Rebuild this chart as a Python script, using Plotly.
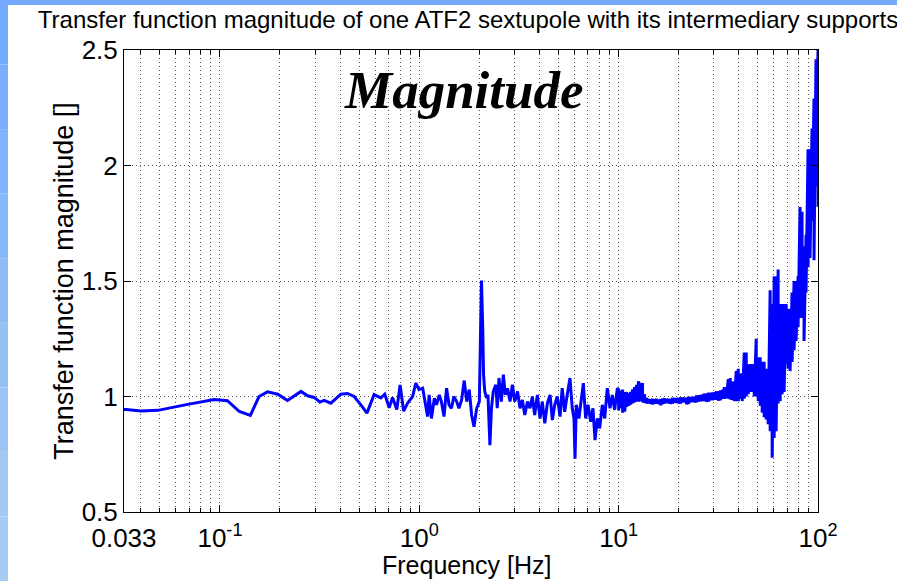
import plotly.graph_objects as go

# ---- data ----
# 0.033 .. 1 Hz
freq_low = [0.033, 0.0338, 0.0402, 0.0488, 0.0689, 0.0936, 0.109, 0.125, 0.142, 0.157,
            0.173, 0.195, 0.218, 0.255, 0.275, 0.297, 0.317, 0.333, 0.360, 0.404,
            0.436, 0.471, 0.509, 0.546, 0.593, 0.641, 0.671, 0.706, 0.734, 0.771,
            0.801, 0.834, 0.873, 0.925, 0.960, 0.997]
mag_low = [0.944, 0.944, 0.937, 0.940, 0.966, 0.987, 0.982, 0.935, 0.918, 1.000,
           1.020, 1.010, 0.983, 1.022, 1.003, 0.996, 0.976, 0.983, 0.971, 1.010,
           1.013, 1.000, 0.964, 0.928, 1.008, 0.994, 1.010, 0.951, 0.996, 0.944,
           1.050, 0.937, 0.971, 1.000, 1.058, 1.030]

# 1 .. 10 Hz (with the 2 Hz resonance)
freq_mid = [1.04, 1.08, 1.10, 1.12, 1.15, 1.19, 1.22, 1.26, 1.29, 1.33, 1.37, 1.41, 1.45,
            1.49, 1.54, 1.58, 1.63, 1.68, 1.73, 1.78, 1.83, 1.88, 1.94, 2.00, 2.02, 2.05,
            2.08, 2.10, 2.13, 2.18, 2.21, 2.26, 2.30, 2.35, 2.42, 2.46, 2.51, 2.58, 2.64,
            2.70, 2.77, 2.85, 2.93, 3.01, 3.11, 3.20, 3.29, 3.38, 3.49, 3.59, 3.69, 3.79,
            3.91, 4.03, 4.14, 4.26, 4.39, 4.53, 4.65, 4.78, 4.92, 5.08, 5.21, 5.36, 5.52,
            5.70, 5.85, 5.97, 6.04, 6.13, 6.32, 6.50, 6.65, 6.83, 7.02, 7.24, 7.43, 7.61,
            7.82, 8.03, 8.28, 8.51, 8.77, 9.05, 9.29, 9.55, 9.85]
mag_mid = [1.036, 0.949, 0.913, 1.007, 0.905, 0.993, 0.964, 1.007, 0.978, 0.913, 1.036,
           0.964, 0.949, 1.000, 0.978, 0.949, 0.985, 1.069, 0.978, 1.030, 0.920, 0.869,
           0.949, 0.978, 1.298, 1.502, 1.298, 1.095, 1.022, 0.993, 1.007, 0.789, 0.949,
           1.022, 1.051, 0.949, 1.080, 0.978, 1.095, 1.007, 1.036, 0.978, 1.051, 0.978,
           1.022, 0.949, 0.985, 0.920, 0.978, 0.949, 1.000, 0.920, 1.007, 0.905, 0.978,
           0.884, 0.971, 1.007, 0.898, 0.964, 1.000, 0.913, 1.036, 0.934, 1.007, 1.080,
           0.949, 0.905, 0.731, 0.964, 0.905, 0.978, 1.058, 0.905, 0.964, 0.891, 0.949,
           0.811, 0.905, 0.862, 0.964, 0.905, 1.036, 0.949, 1.007, 0.942, 1.036]

# 10 .. 40 Hz: dense noisy band, upper and lower extent at each frequency
freq_band = [10.0, 10.23, 10.47, 10.72, 10.96, 11.22, 11.48, 11.75, 12.02, 12.30, 12.59,
             12.88, 13.18, 13.49, 13.80, 14.13, 14.45, 14.79, 15.14, 15.49, 15.85, 16.22,
             16.60, 16.98, 17.38, 17.78, 18.20, 18.62, 19.05, 19.50, 19.95, 20.42, 20.89,
             21.38, 21.88, 22.39, 22.91, 23.44, 23.99, 24.55, 25.12, 25.70, 26.30, 26.92,
             27.54, 28.18, 28.84, 29.51, 30.20, 30.90, 31.62, 32.36, 33.11, 33.88, 34.67,
             35.48, 36.31, 37.15, 38.02, 38.90]
band_top = [1.030, 1.025, 1.030, 1.020, 1.020, 1.015, 1.020, 1.030, 1.040, 1.050, 1.066,
            1.060, 1.058, 1.010, 0.995, 0.990, 0.988, 0.990, 0.988, 0.990, 0.986, 0.988,
            0.990, 0.992, 0.990, 0.990, 0.988, 0.994, 0.994, 0.992, 0.994, 0.996, 0.996,
            0.995, 0.994, 0.998, 0.998, 0.997, 0.998, 1.004, 1.005, 1.006, 1.008, 1.012,
            1.012, 1.016, 1.016, 1.017, 1.018, 1.022, 1.022, 1.026, 1.028, 1.040, 1.040,
            1.075, 1.080, 1.065, 1.065, 1.110]
band_bottom = [0.940, 0.950, 0.930, 0.935, 0.955, 0.960, 0.965, 0.970, 0.975, 0.978, 0.978,
               0.980, 0.975, 0.972, 0.970, 0.970, 0.968, 0.966, 0.970, 0.970, 0.967, 0.962,
               0.967, 0.970, 0.972, 0.970, 0.968, 0.970, 0.973, 0.972, 0.970, 0.970, 0.976,
               0.975, 0.966, 0.968, 0.976, 0.976, 0.974, 0.975, 0.978, 0.979, 0.980, 0.980,
               0.977, 0.978, 0.984, 0.984, 0.986, 0.986, 0.982, 0.984, 0.990, 0.990, 0.992,
               0.990, 0.987, 0.985, 0.980, 0.980]

# 40 .. 100 Hz: rising, very noisy; upper and lower extent at each frequency
freq_high = [39.81, 40.74, 41.69, 42.66, 43.65, 44.67, 45.71, 46.77, 47.86, 48.98, 50.12,
             51.29, 52.48, 53.70, 54.95, 56.23, 57.54, 58.88, 60.26, 61.66, 63.10, 64.57,
             66.07, 67.61, 69.18, 70.79, 72.44, 74.13, 75.86, 77.62, 79.43, 81.28, 83.18,
             85.11, 87.10, 89.13, 91.20, 93.33, 95.50, 97.72, 100.0]
high_top = [1.12, 1.10, 1.10, 1.19, 1.19, 1.14, 1.14, 1.14, 1.14, 1.25, 1.17,
            1.17, 1.15, 1.15, 1.12, 1.10, 1.46, 1.40, 1.52, 1.52, 1.55, 1.40,
            1.40, 1.40, 1.40, 1.38, 1.38, 1.45, 1.50, 1.50, 1.52, 1.82, 1.80,
            1.65, 1.70, 2.07, 2.07, 2.16, 2.29, 2.46, 2.50]
high_bottom = [0.98, 0.99, 0.98, 0.99, 1.00, 1.01, 1.02, 1.02, 1.00, 1.00, 0.98,
               0.96, 0.93, 0.91, 0.90, 0.88, 0.85, 0.735, 0.82, 0.85, 0.97, 0.98,
               1.01, 1.02, 1.14, 1.12, 1.11, 1.15, 1.20, 1.24, 1.30, 1.34, 1.34,
               1.24, 1.45, 1.56, 1.60, 1.76, 1.59, 1.91, 1.82]

x_tick_vals = [0.033, 0.1, 1, 10, 100]
x_tick_text = ["0.033", "10<sup>-1</sup>", "10<sup>0</sup>", "10<sup>1</sup>", "10<sup>2</sup>"]
x_minor_vals = [0.04, 0.05, 0.06, 0.07, 0.08, 0.09,
                0.2, 0.3, 0.4, 0.5, 0.6, 0.7, 0.8, 0.9,
                2, 3, 4, 5, 6, 7, 8, 9,
                20, 30, 40, 50, 60, 70, 80, 90]
y_tick_vals = [0.5, 1, 1.5, 2, 2.5]
y_tick_text = ["0.5", "1", "1.5", "2", "2.5"]

# assemble one continuous measured curve (band readings go top -> bottom at each frequency)
freq = freq_low + freq_mid
mag = mag_low + mag_mid
for f, t, b in zip(freq_band + freq_high, band_top + high_top, band_bottom + high_bottom):
    freq += [f, f]
    mag += [t, b]

W, H = 897, 581
L, R, T, B = 124, 79, 50, 69
PW, PH = W - L - R, H - T - B


def px(xp):
    return (xp - L) / PW


def py(yp):
    return (H - B - yp) / PH


fig = go.Figure()
fig.add_trace(go.Scatter(x=freq, y=mag, mode="lines",
                         line=dict(color="#0000FF", width=3), showlegend=False,
                         hoverinfo="skip"))

font_main = "Liberation Sans, Arial, sans-serif"
grid_dash = "1px,3px"
grid_col = "#555555"

fig.update_layout(
    width=W, height=H,
    margin=dict(l=L, r=R, t=T, b=B, pad=0, autoexpand=False),
    paper_bgcolor="white", plot_bgcolor="white",
    font=dict(family=font_main, color="black", size=26),
    title=dict(text="Transfer function magnitude of one ATF2 sextupole with its intermediary supports",
               font=dict(size=24, family=font_main, color="black"),
               x=px(468), xanchor="center", xref="paper",
               y=1 - 20 / H, yanchor="middle", yref="container"),
    xaxis=dict(type="log", range=[-1.4815, 2.0], automargin=False,
               tickmode="array", tickvals=x_tick_vals, ticktext=x_tick_text,
               ticks="inside", ticklen=7, tickcolor="black",
               showline=True, linecolor="black", linewidth=1, mirror="ticks",
               showgrid=True, gridcolor=grid_col, griddash=grid_dash, gridwidth=1,
               minor=dict(tickmode="array", tickvals=x_minor_vals, ticks="inside",
                          ticklen=4, tickcolor="black", showgrid=True,
                          gridcolor=grid_col, griddash=grid_dash, gridwidth=1),
               tickfont=dict(size=26), ticklabelstandoff=3,
               zeroline=False),
    yaxis=dict(range=[0.5, 2.5], automargin=False,
               tickmode="array", tickvals=y_tick_vals, ticktext=y_tick_text,
               ticks="inside", ticklen=7, tickcolor="black",
               showline=True, linecolor="black", linewidth=1, mirror="ticks",
               showgrid=True, gridcolor=grid_col, griddash=grid_dash, gridwidth=1,
               tickfont=dict(size=26),
               title=dict(text="Transfer function magnitude []", font=dict(size=27), standoff=0),
               zeroline=False),
)

# x axis title, placed like the reference (just under the tick labels)
fig.add_annotation(text="Frequency [Hz]", xref="paper", yref="paper",
                   x=px(467), y=py(565), xanchor="center", yanchor="middle",
                   showarrow=False, font=dict(family=font_main, size=25, color="black"))

fig.add_annotation(text="<b><i>Magnitude</i></b>", xref="paper", yref="paper",
                   x=px(464), y=py(90), xanchor="center", yanchor="middle",
                   showarrow=False,
                   font=dict(family="Liberation Serif, Times New Roman, serif", size=53, color="black"))

# blue frame strips of the slide (top bar and left gradient bar)
fig.add_shape(type="rect", xref="paper", yref="paper", x0=px(0), x1=px(W), y0=py(5), y1=py(0),
              fillcolor="#73AAFF", line=dict(width=0), layer="above")
left_cols = ["#74ABFF", "#7AAFFD", "#80B3FB", "#87B8F9", "#8EBCF7", "#95C1F5", "#9CC5F3", "#A3C9F2", "#A8CCF1"]
n = len(left_cols)
for i, c in enumerate(left_cols):
    fig.add_shape(type="rect", xref="paper", yref="paper", x0=px(0), x1=px(8),
                  y0=py(H * (i + 1) / n), y1=py(H * i / n),
                  fillcolor=c, line=dict(width=0), layer="above")

fig.write_html("out.html")
